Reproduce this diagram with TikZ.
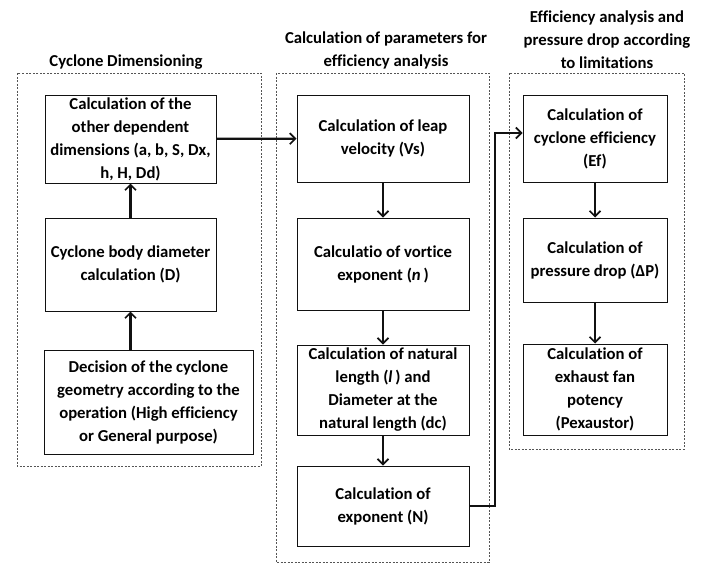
\documentclass[tikz,border=0pt]{standalone}
\usepackage{fontspec}
\setmainfont{Carlito}[Ligatures=NoCommon]
\usepackage{xcolor}
\definecolor{cydark}{HTML}{111111}
\definecolor{cyframe}{HTML}{555555}
\usepackage{tikz}
\usetikzlibrary{arrows.meta,positioning,calc}

\begin{document}
\begin{tikzpicture}[x=1pt,y=-1pt,
    stepbox/.style={draw=cydark,line width=1pt,align=center,inner sep=1pt,
      font=\fontsize{16.7}{23}\selectfont\bfseries},
    groupframe/.style={draw=cyframe,line width=0.7pt,dash pattern=on 2pt off 1.5pt},
    grouphead/.style={align=center,font=\fontsize{16.7}{23}\selectfont\bfseries},
    flow/.style={draw=cydark,line width=2.2pt,-{Straight Barb[length=5.5pt,width=11pt,line width=1.7pt]}}]
  \useasboundingbox (0,0) rectangle (709,563);

  %% Group frames
  \draw[groupframe] (17,73)  rectangle (261,466);
  \draw[groupframe] (276,73) rectangle (489,562);
  \draw[groupframe] (509,73) rectangle (684,449);

  %% Group headings
  \node[grouphead] (headL) at (126,62) {Cyclone Dimensioning};
  \node[grouphead] (headM) at (386,50.5)
    {Calculation of parameters for\\efficiency analysis};
  \node[grouphead] (headR) at (607,39.5)
    {Efficiency analysis and\\pressure drop according\\to limitations};

  %% Cyclone dimensioning
  \node[stepbox,minimum width=171pt,minimum height=88pt] (dims) at (130.5,139)
    {Calculation of the\\other dependent\\dimensions (a, b, S, Dx,\\h, H, Dd)};
  \node[stepbox,minimum width=171pt,minimum height=93pt] (diam) at (130.5,264.5)
    {Cyclone body diameter\\calculation (D)};
  \node[stepbox,minimum width=209pt,minimum height=104pt] (geom) at (148.5,402)
    {Decision of the cyclone\\geometry according to the\\operation (High efficiency\\or General purpose)};

  %% Parameters for efficiency
  \node[stepbox,minimum width=172pt,minimum height=87pt] (leap) at (383,138.5)
    {Calculation of leap\\velocity (Vs)};
  \node[stepbox,minimum width=172pt,minimum height=92pt] (vort) at (383,264)
    {Calculatio of vortice\\exponent (\textit{n}\,)};
  \node[stepbox,minimum width=172pt,minimum height=90pt] (natl) at (383,390)
    {Calculation of natural\\length (\textit{l}\,) and\\Diameter at the\\natural length (dc)};
  \node[stepbox,minimum width=172pt,minimum height=80pt] (expN) at (383,506)
    {Calculation of\\exponent (N)};

  %% Efficiency and pressure drop
  \node[stepbox,minimum width=144pt,minimum height=87pt] (effi) at (595,138.5)
    {Calculation of\\cyclone efficiency\\(Ef)};
  \node[stepbox,minimum width=144pt,minimum height=84pt] (dpres) at (595,260)
    {Calculation of\\pressure drop (ΔP)};
  \node[stepbox,minimum width=144pt,minimum height=91pt] (fan) at (595,389.5)
    {Calculation of\\exhaust fan\\potency\\(Pexaustor)};

  %% Connectors
  \draw[flow] (diam |- geom.north) -- (diam);
  \draw[flow] (diam) -- (dims);
  \draw[flow] (dims) -- (leap);
  \draw[flow] (leap) -- (vort);
  \draw[flow] (vort) -- (natl);
  \draw[flow] (natl) -- (expN);
  \coordinate (jog) at (495,133);
  \draw[flow] (expN.east) -| (jog) -- (jog -| effi.west);
  \draw[flow] (effi) -- (dpres);
  \draw[flow] (dpres) -- (fan);
\end{tikzpicture}
\end{document}
